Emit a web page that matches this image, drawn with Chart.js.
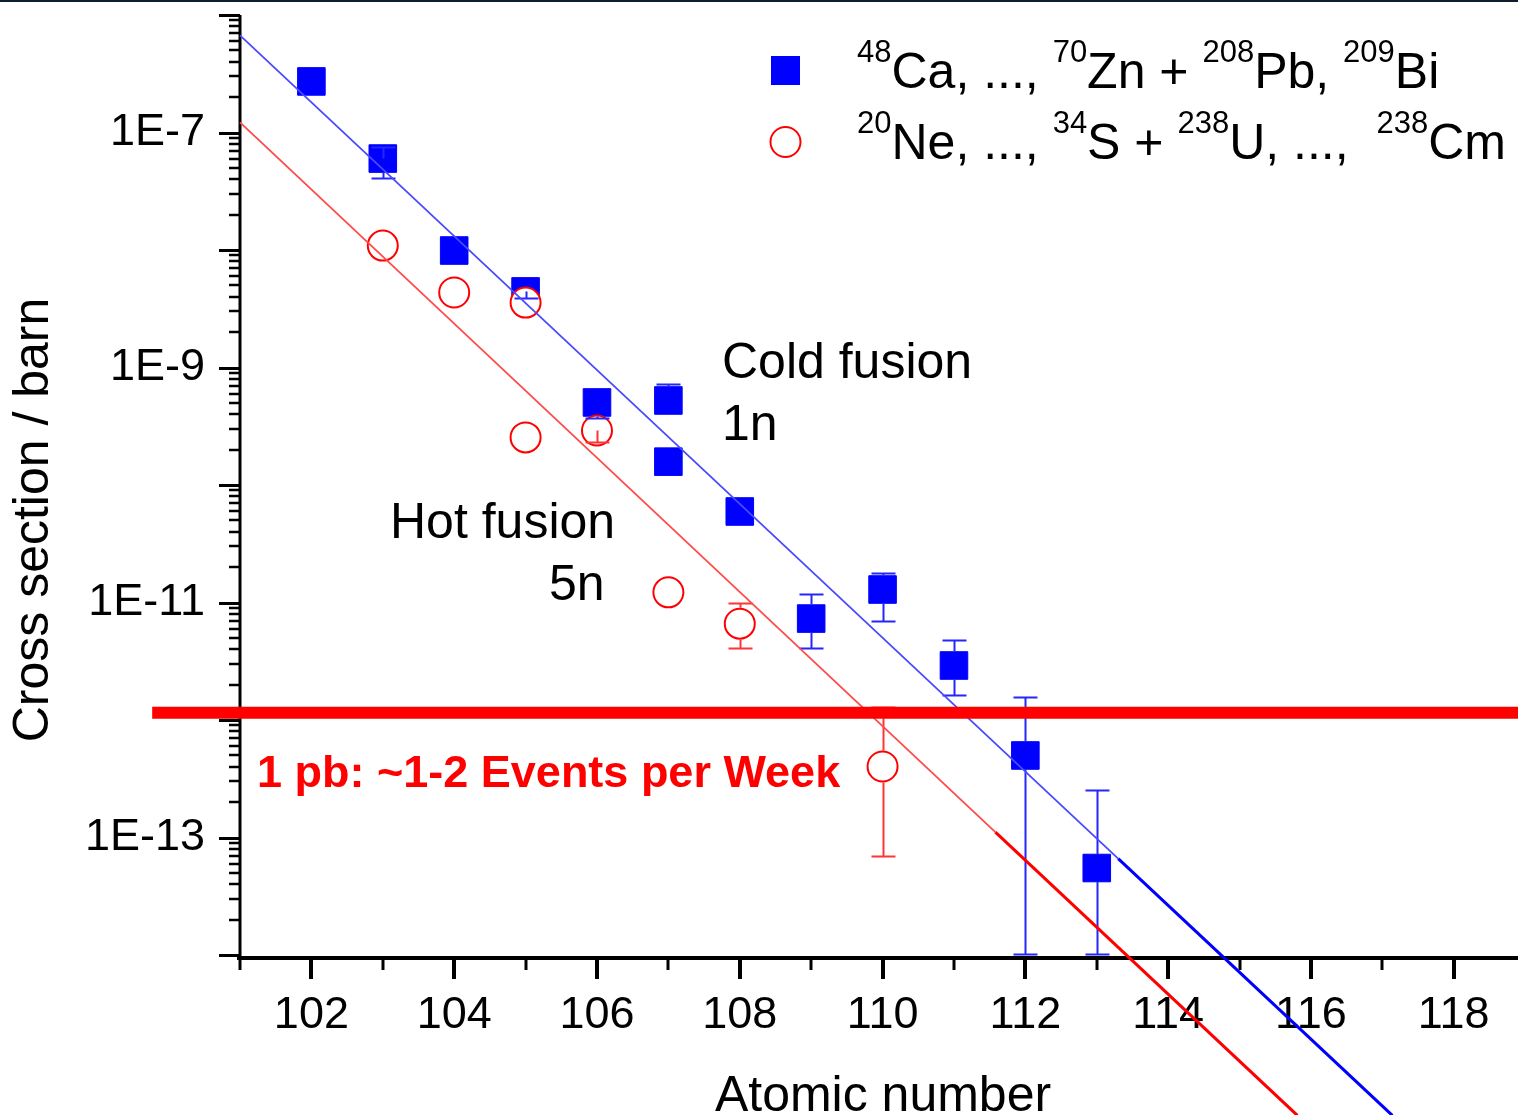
<!DOCTYPE html>
<html>
<head>
<meta charset="utf-8">
<script src="https://cdn.jsdelivr.net/npm/chart.js@4.4.0/dist/chart.umd.min.js"></script>
<style>
  html, body { margin: 0; padding: 0; background: #fff; }
  canvas { display: block; }
</style>
</head>
<body>
<canvas id="myChart" width="1518" height="1115"></canvas>
<script>
// cold fusion (1n): 48Ca ... 70Zn + 208Pb, 209Bi
const coldZ     = [102, 103, 104, 105, 106, 107, 107, 108, 109, 110, 111, 112, 113];
const coldSigma = [2.72e-7, 6.0e-8, 9.9e-9, 4.44e-9, 5.04e-10, 5.24e-10, 1.58e-10, 5.95e-11, 7.3e-12, 1.29e-11, 2.91e-12, 4.99e-13, 5.5e-14];
const coldLo    = [null, 4.14e-8, null, 3.87e-9, 3.72e-10, null, null, null, 4.07e-12, 6.9e-12, 1.62e-12, 1.01e-14, 1.01e-14];
const coldHi    = [null, 7.6e-8, null, null, null, 7.2e-10, null, null, 1.17e-11, 1.78e-11, 4.75e-12, 1.58e-12, 2.56e-13];

// hot fusion (5n): 20Ne ... 34S + 238U ... 238Cm
const hotZ     = [103, 104, 105, 105, 106, 107, 108, 110];
const hotSigma = [1.09e-8, 4.35e-9, 3.57e-9, 2.54e-10, 2.91e-10, 1.22e-11, 6.6e-12, 4.02e-13];
const hotLo    = [null, null, null, null, 2.30e-10, null, 4.07e-12, 6.9e-14];
const hotHi    = [null, null, null, null, null, null, 1.0e-11, 1.3e-12];

// fit lines (start, end of thin part, end of the extension)
const coldFitZ     = [101, 113.3, 117.14];
const coldFitSigma = [6.7e-7, 6.62e-14, 4.31e-16];
const hotFitZ      = [101, 111.58, 115.81];
const hotFitSigma  = [1.22e-7, 1.11e-13, 4.31e-16];

// 1 pb line
const pbZ = [99.77, 119];
const pbSigma = [1.15e-12, 1.15e-12];

const xTicks = [102, 104, 106, 108, 110, 112, 114, 116, 118];
const yTickValues = [1e-7, 1e-9, 1e-11, 1e-13];
const yTickLabels = ['1E-7', '1E-9', '1E-11', '1E-13'];

const FONT = "'Liberation Sans', Arial, sans-serif";

function pts(xs, ys) {
  return xs.map((v, i) => ({ x: v, y: ys[i] }));
}

function line(ctx, x1, y1, x2, y2) {
  ctx.beginPath();
  ctx.moveTo(x1, y1);
  ctx.lineTo(x2, y2);
  ctx.stroke();
}

// axes lines and tick marks
const axesPlugin = {
  id: 'axes',
  beforeDatasetsDraw(chart) {
    const { ctx, chartArea: a, scales: { x, y } } = chart;
    ctx.save();
    ctx.strokeStyle = '#000';
    ctx.lineWidth = 3;
    line(ctx, a.left, a.top, a.left, a.bottom);
    for (let e = -14; e <= -6; e++) {
      const py = Math.round(y.getPixelForValue(Math.pow(10, e))) + 0.5;
      ctx.lineWidth = 3;
      line(ctx, a.left - 21, py, a.left, py);
      if (e < -6) {
        ctx.lineWidth = 2.5;
        for (let m = 2; m <= 9; m++) {
          const pm = Math.round(y.getPixelForValue(m * Math.pow(10, e)));
          line(ctx, a.left - 11, pm, a.left, pm);
        }
      }
    }
    ctx.lineWidth = 4;
    line(ctx, a.left - 3, a.bottom, chart.width, a.bottom);
    for (let z = 101; z <= 118; z++) {
      const px = Math.round(x.getPixelForValue(z));
      if (z % 2 === 0) {
        ctx.lineWidth = 4;
        line(ctx, px, a.bottom, px, a.bottom + 21);
      } else {
        ctx.lineWidth = 3;
        line(ctx, px, a.bottom, px, a.bottom + 12);
      }
    }
    ctx.restore();
  }
};

function drawBars(chart, xs, ys, los, his, color, gap) {
  const { ctx, scales: { x, y } } = chart;
  ctx.save();
  ctx.strokeStyle = color;
  ctx.lineWidth = 2;
  xs.forEach((z, i) => {
    const px = Math.round(x.getPixelForValue(z)) + 0.5;
    const py = y.getPixelForValue(ys[i]);
    [his[i], los[i]].forEach((v, k) => {
      if (v == null) return;
      const pv = Math.round(y.getPixelForValue(v)) + 0.5;
      const dir = k === 0 ? -1 : 1;
      const start = Math.abs(pv - py) > gap ? py + dir * gap : py;
      line(ctx, px, start, px, pv);
      line(ctx, px - 12, pv, px + 12, pv);
    });
  });
  ctx.restore();
}

const errorPlugin = {
  id: 'errors',
  afterDatasetDraw(chart, args) {
    if (args.index !== 5) return;
    drawBars(chart, coldZ, coldSigma, coldLo, coldHi, '#2525ff', 14);
    drawBars(chart, hotZ, hotSigma, hotLo, hotHi, '#ff3535', 16);
  }
};

function richText(ctx, parts, x, base, size, supSize) {
  let cx = x;
  parts.forEach(p => {
    if (p[1]) {
      ctx.font = supSize + 'px ' + FONT;
      ctx.fillText(p[0], cx, base - size * 0.52);
    } else {
      ctx.font = size + 'px ' + FONT;
      ctx.fillText(p[0], cx, base);
    }
    cx += ctx.measureText(p[0]).width;
  });
}

const textPlugin = {
  id: 'texts',
  afterDraw(chart) {
    const { ctx } = chart;
    ctx.save();
    ctx.fillStyle = '#0f1e2e';
    ctx.fillRect(0, 0, chart.width, 2);

    ctx.fillStyle = '#000';
    ctx.textBaseline = 'alphabetic';
    ctx.textAlign = 'left';
    ctx.font = '50px ' + FONT;
    ctx.fillText('Cold fusion', 722, 378);
    ctx.fillText('1n', 722, 440);
    ctx.fillText('Hot fusion', 390, 538);
    ctx.fillText('5n', 549, 600);

    ctx.fillStyle = '#ff0000';
    ctx.font = 'bold 45px ' + FONT;
    ctx.fillText('1 pb: ~1-2 Events per Week', 257, 787);

    // legend
    ctx.fillStyle = '#0000ff';
    ctx.fillRect(771, 56, 29, 29);
    ctx.strokeStyle = '#ff0000';
    ctx.lineWidth = 2;
    ctx.fillStyle = '#fff';
    ctx.beginPath();
    ctx.arc(785.5, 142, 15, 0, Math.PI * 2);
    ctx.fill();
    ctx.stroke();

    ctx.fillStyle = '#000';
    richText(ctx, [['48', 1], ['Ca, ..., ', 0], ['70', 1], ['Zn + ', 0], ['208', 1], ['Pb, ', 0], ['209', 1], ['Bi', 0]], 857, 88, 50, 31);
    richText(ctx, [['20', 1], ['Ne, ..., ', 0], ['34', 1], ['S + ', 0], ['238', 1], ['U, ..., \u00a0', 0], ['238', 1], ['Cm', 0]], 857, 159, 50, 31);

    // axis titles
    ctx.font = '50px ' + FONT;
    ctx.textAlign = 'center';
    ctx.fillText('Atomic number', 883, 1111);
    ctx.translate(48, 520);
    ctx.rotate(-Math.PI / 2);
    ctx.fillText('Cross section / barn', 0, 0);
    ctx.restore();
  }
};

const ctx = document.getElementById('myChart').getContext('2d');

const myChart = new Chart(ctx, {
  type: 'scatter',
  data: {
    datasets: [
      {
        label: '1 pb',
        data: pts(pbZ, pbSigma),
        showLine: true,
        borderColor: '#ff0000',
        borderWidth: 12,
        pointRadius: 0,
        clip: false,
        order: 0
      },
      {
        label: 'cold fit',
        data: pts(coldFitZ.slice(0, 2), coldFitSigma.slice(0, 2)),
        showLine: true,
        borderColor: '#4a4aff',
        borderWidth: 1.8,
        pointRadius: 0,
        clip: false,
        order: 1
      },
      {
        label: 'cold fit ext',
        data: pts(coldFitZ.slice(1), coldFitSigma.slice(1)),
        showLine: true,
        borderColor: '#0000ff',
        borderWidth: 3,
        pointRadius: 0,
        clip: false,
        order: 1
      },
      {
        label: 'hot fit',
        data: pts(hotFitZ.slice(0, 2), hotFitSigma.slice(0, 2)),
        showLine: true,
        borderColor: '#ff4a4a',
        borderWidth: 1.8,
        pointRadius: 0,
        clip: false,
        order: 1
      },
      {
        label: 'hot fit ext',
        data: pts(hotFitZ.slice(1), hotFitSigma.slice(1)),
        showLine: true,
        borderColor: '#ff0000',
        borderWidth: 3,
        pointRadius: 0,
        clip: false,
        order: 1
      },
      {
        label: 'hot fusion',
        data: pts(hotZ, hotSigma),
        pointStyle: 'circle',
        pointRadius: 15,
        borderWidth: 2,
        borderColor: '#ff0000',
        backgroundColor: '#ffffff',
        order: 5
      },
      {
        label: 'cold fusion',
        data: pts(coldZ, coldSigma),
        pointStyle: 'rect',
        pointRadius: 19.5,
        borderWidth: 1,
        borderColor: '#0000ff',
        backgroundColor: '#0000ff',
        order: 6
      }
    ]
  },
  options: {
    responsive: false,
    animation: false,
    events: [],
    devicePixelRatio: 1,
    layout: { autoPadding: false, padding: { top: 15, left: 0, right: 0, bottom: 0 } },
    plugins: {
      legend: { display: false },
      tooltip: { enabled: false }
    },
    scales: {
      x: {
        type: 'linear',
        min: 101,
        max: 118.9,
        bounds: 'data',
        grid: { display: false, drawTicks: false },
        border: { display: false },
        afterBuildTicks: s => { s.ticks = xTicks.map(v => ({ value: v })); },
        afterFit: s => { s.height = 157; s.paddingLeft = 0; s.paddingRight = 0; },
        ticks: {
          font: { family: FONT, size: 45 },
          color: '#000',
          padding: 31,
          maxRotation: 0,
          autoSkip: false,
          callback: v => String(v)
        }
      },
      y: {
        type: 'logarithmic',
        min: 9.43e-15,
        max: 1e-6,
        bounds: 'data',
        grid: { display: false, drawTicks: false },
        border: { display: false },
        afterBuildTicks: s => { s.ticks = yTickValues.map(v => ({ value: v })); },
        afterFit: s => { s.width = 240; s.paddingTop = 0; s.paddingBottom = 0; },
        ticks: {
          font: { family: FONT, size: 45 },
          color: '#000',
          padding: 35,
          autoSkip: false,
          callback: (v, i) => yTickLabels[i]
        }
      }
    }
  },
  plugins: [axesPlugin, errorPlugin, textPlugin]
});
</script>
</body>
</html>
